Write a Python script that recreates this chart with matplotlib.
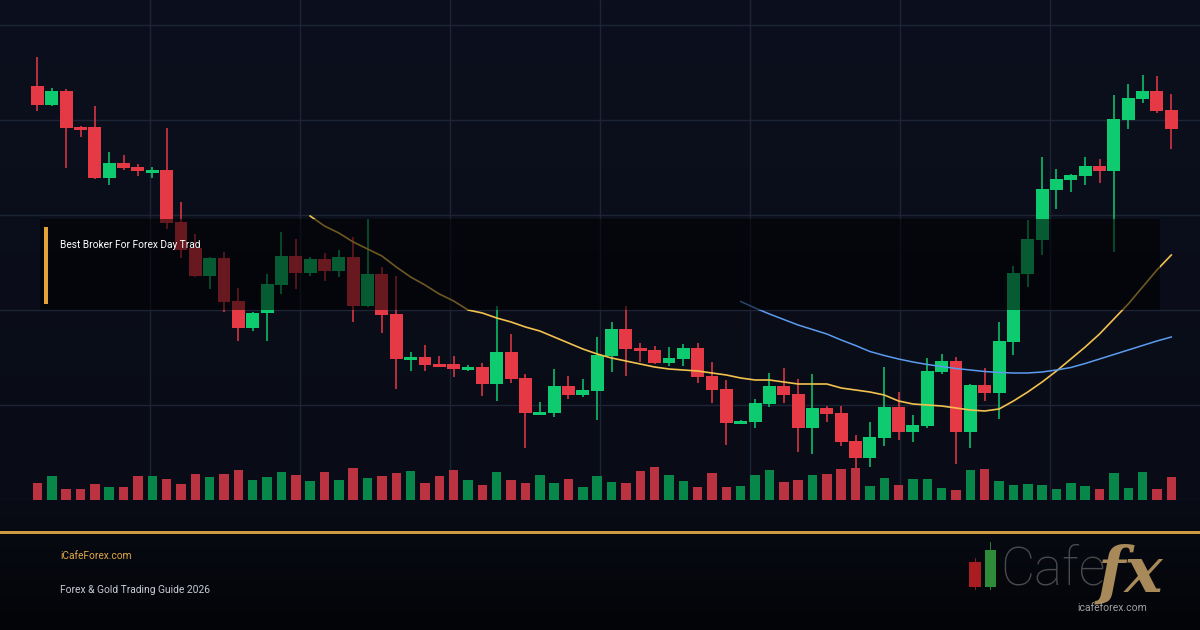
import matplotlib
matplotlib.use('Agg')
import matplotlib.pyplot as plt
import numpy as np
from matplotlib.patches import Rectangle

# OHLC, 80 sessions (gold, USD)
opens = [2414, 2395, 2409, 2373, 2373, 2322, 2337, 2333, 2327, 2330,
         2278, 2252, 2224, 2242, 2199, 2172, 2187, 2215, 2244, 2227,
         2241, 2229, 2243, 2194, 2226, 2186, 2140, 2143, 2136, 2136,
         2130, 2133, 2116, 2148, 2122, 2085, 2087, 2114, 2105, 2109,
         2144, 2171, 2152, 2150, 2137, 2141, 2152, 2124, 2111, 2076,
         2078, 2096, 2114, 2106, 2072, 2092, 2087, 2059, 2042, 2062,
         2093, 2068, 2074, 2128, 2139, 2068, 2115, 2107, 2158, 2226,
         2260, 2310, 2320, 2324, 2334, 2329, 2380, 2401, 2409, 2390]
highs = [2443, 2412, 2411, 2374, 2394, 2348, 2345, 2336, 2333, 2372,
         2298, 2266, 2243, 2248, 2212, 2188, 2226, 2268, 2261, 2243,
         2247, 2250, 2263, 2281, 2233, 2224, 2148, 2155, 2144, 2144,
         2135, 2137, 2194, 2166, 2126, 2098, 2131, 2124, 2121, 2163,
         2178, 2194, 2157, 2154, 2153, 2156, 2157, 2138, 2120, 2080,
         2101, 2127, 2132, 2121, 2126, 2094, 2094, 2065, 2078, 2133,
         2108, 2085, 2142, 2146, 2143, 2116, 2132, 2178, 2234, 2280,
         2343, 2331, 2326, 2343, 2341, 2405, 2416, 2425, 2424, 2406]
lows = [2389, 2394, 2332, 2363, 2321, 2315, 2330, 2324, 2322, 2271,
        2242, 2223, 2211, 2188, 2159, 2169, 2159, 2206, 2211, 2224,
        2219, 2223, 2178, 2193, 2167, 2111, 2129, 2129, 2133, 2123,
        2129, 2104, 2099, 2117, 2052, 2085, 2083, 2101, 2103, 2080,
        2128, 2124, 2138, 2136, 2134, 2134, 2117, 2097, 2055, 2076,
        2072, 2093, 2097, 2048, 2046, 2078, 2054, 2032, 2033, 2054,
        2060, 2058, 2072, 2126, 2036, 2052, 2099, 2081, 2145, 2213,
        2245, 2291, 2308, 2315, 2317, 2248, 2371, 2397, 2387, 2351]
closes = [2395, 2409, 2372, 2370, 2322, 2337, 2332, 2329, 2330, 2277,
          2250, 2224, 2242, 2198, 2172, 2187, 2216, 2244, 2227, 2241,
          2229, 2243, 2194, 2226, 2185, 2141, 2143, 2135, 2133, 2131,
          2133, 2116, 2148, 2121, 2087, 2088, 2114, 2105, 2110, 2145,
          2171, 2151, 2149, 2137, 2142, 2152, 2123, 2110, 2077, 2079,
          2097, 2114, 2105, 2072, 2092, 2086, 2058, 2042, 2063, 2093,
          2068, 2075, 2129, 2139, 2068, 2115, 2107, 2159, 2227, 2261,
          2311, 2321, 2325, 2334, 2329, 2381, 2402, 2409, 2389, 2371]
volumes = [1700, 2370, 1070, 1070, 1570, 1270, 1270, 2370, 2370, 2070,
           1570, 2570, 2270, 2570, 2970, 1970, 2270, 2770, 2470, 1870,
           2770, 1970, 3170, 2170, 2370, 2670, 2870, 1670, 2370, 2970,
           1970, 1470, 2770, 1970, 1670, 2470, 1670, 2070, 1270, 2370,
           1770, 1670, 2870, 3270, 2470, 1870, 1270, 2670, 1270, 1370,
           2470, 2970, 1770, 1970, 2470, 2570, 3070, 3170, 1370, 2170,
           1470, 2070, 2070, 1170, 970, 2970, 3070, 1870, 1470, 1570,
           1470, 1070, 1670, 1370, 1070, 2670, 1170, 2770, 1070, 2270]

# moving averages
ma_fast_start = 19
ma_fast = [2284, 2274, 2267, 2258, 2251, 2244, 2233, 2223, 2215, 2206,
           2199, 2190, 2187, 2182, 2178, 2173, 2169, 2163, 2157, 2151,
           2146, 2142, 2139, 2136, 2133, 2131, 2130, 2129, 2127, 2125,
           2122, 2120, 2120, 2118, 2116, 2116, 2116, 2112, 2110, 2108,
           2105, 2099, 2096, 2095, 2094, 2092, 2090, 2089, 2091, 2099,
           2108, 2118, 2129, 2141, 2153, 2166, 2181, 2196, 2213, 2230,
           2245]
ma_slow_start = 49
ma_slow = [2198.5, 2192, 2186, 2180.5, 2175, 2170.5, 2166, 2160, 2154.5,
           2148.5, 2144.5, 2141, 2138, 2135.5, 2133.5, 2131.5, 2130,
           2128.5, 2127.5, 2127, 2127, 2128, 2130, 2132.5, 2136.5, 2141,
           2145.5, 2150, 2154.5, 2159, 2163]

banner_text = 'Best Broker For Forex Day Trad'
site = 'iCafeForex.com'
subtitle = 'Forex & Gold Trading Guide 2026'

UP, DOWN = '#0fcb6f', '#e63946'
VUP, VDOWN = '#08874b', '#bb3340'

W, H = 1200, 630
fig = plt.figure(figsize=(12, 6.3), dpi=100)

# background gradient
bg = fig.add_axes([0, 0, 1, 1], zorder=0)
yy = np.linspace(0, 1, 300)
stops = np.array([[12, 16, 30], [9, 12, 22], [3, 4, 7]]) / 255
cols = np.stack([np.interp(yy, [0, 500 / 630, 1], stops[:, k]) for k in range(3)], axis=1)
bg.imshow(cols[:, None, :], aspect='auto', extent=[0, 1, 0, 1])
bg.axis('off')

ax = fig.add_axes([0, 130 / 630, 1, 500 / 630], zorder=1)
ax.set_facecolor('none')
ax.set_xlim(-2.61, 81.0)
ax.set_ylim(2000, 2500)
for s in ax.spines.values():
    s.set_visible(False)
ax.set_xticks([])
ax.set_yticks([])

# grid
gridc = '#1d2436'
x0, x1 = ax.get_xlim()
for k in range(1, 8):
    ax.axvline(x0 + k / 8 * (x1 - x0), color=gridc, lw=1, zorder=0)
for k in range(6):
    ax.axhline(2000 + k * 95, color=gridc, lw=1, zorder=0)

vax = ax.twinx()
vax.set_ylim(0, 50000)
vax.set_axis_off()

idx = np.arange(len(opens))
for i in idx:
    o, c = opens[i], closes[i]
    up = c >= o
    col = UP if up else DOWN
    ax.vlines(i, lows[i], highs[i], color=col, lw=1.1, zorder=2)
    ax.bar(i, max(abs(c - o), 2), bottom=min(o, c), width=0.9, color=col, zorder=3)
    vax.bar(i, volumes[i], width=0.66, color=VUP if up else VDOWN, zorder=2)

ax.plot(np.arange(ma_fast_start, ma_fast_start + len(ma_fast)), ma_fast,
        color='#f2c14e', lw=1.2, zorder=4)
ax.plot(np.arange(ma_slow_start, ma_slow_start + len(ma_slow)), ma_slow,
        color='#5b9cf0', lw=1.1, zorder=4)

# banner overlay
fig.add_artist(Rectangle((40 / W, 1 - 310 / H), 1120 / W, 91 / H, transform=fig.transFigure,
                         facecolor='black', alpha=0.55, lw=0, zorder=5))
fig.add_artist(Rectangle((44 / W, 1 - 304 / H), 4 / W, 77 / H, transform=fig.transFigure,
                         facecolor='#e2a23a', lw=0, zorder=6))
fig.text(60 / W, 1 - 245 / H, banner_text, color='white', fontsize=7.3, va='center',
         family='Roboto', zorder=7)

# footer
fig.add_artist(Rectangle((0, 1 - 534 / H), 1, 3.5 / H, transform=fig.transFigure,
                         facecolor='#cf9a40', lw=0, zorder=6))
fig.text(60 / W, 1 - 556 / H, site, color='#e0a848', fontsize=7.3, va='center', family='Roboto')
fig.text(60 / W, 1 - 590 / H, subtitle, color='#c9ccd3', fontsize=7.4, va='center', family='Roboto')

# logo
fig.add_artist(Rectangle((975 / W, 1 - 590 / H), 1 / W, 32 / H, transform=fig.transFigure,
                         facecolor='#8a1a1e', lw=0))
fig.add_artist(Rectangle((969 / W, 1 - 587 / H), 12 / W, 25 / H, transform=fig.transFigure,
                         facecolor='#a81c22', lw=0))
fig.add_artist(Rectangle((990 / W, 1 - 590 / H), 1 / W, 48 / H, transform=fig.transFigure,
                         facecolor='#2c7a34', lw=0))
fig.add_artist(Rectangle((985 / W, 1 - 587 / H), 11 / W, 37 / H, transform=fig.transFigure,
                         facecolor='#2e8b3a', lw=0))
fig.text(1000 / W, 1 - 570 / H, 'Cafe', color='#4a4a4e', fontsize=38, va='center',
         family='Roboto', fontweight='light')
fig.text(1098 / W, 1 - 574 / H, 'fx', color='#a88a5a', fontsize=46, va='center',
         family='DejaVu Serif', style='italic', fontweight='bold')
fig.text(1112 / W, 1 - 608 / H, 'icafeforex.com', color='#a0a0a4', fontsize=7.5, va='center',
         ha='center', family='Roboto')

fig.savefig('out.png', dpi=100)
